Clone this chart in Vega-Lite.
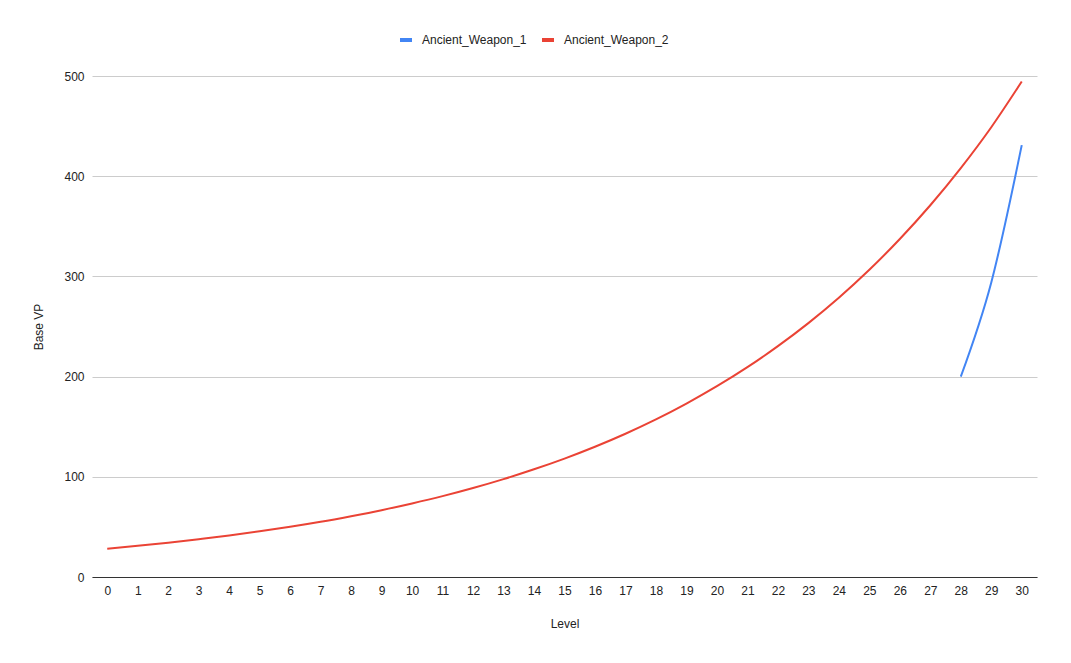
{
  "$schema": "https://vega.github.io/schema/vega-lite/v6.json",
  "width": 945,
  "height": 501,
  "autosize": {"type": "none"},
  "padding": {"left": 92, "top": 76, "right": 34, "bottom": 86},
  "background": "#ffffff",
  "config": {
    "font": "Liberation Sans",
    "view": {"stroke": null},
    "axis": {"labelFont": "Liberation Sans", "titleFont": "Liberation Sans", "labelColor": "#222222", "titleColor": "#222222", "labelFontSize": 12, "titleFontSize": 12, "titleFontWeight": "normal"},
    "legend": {"labelFont": "Liberation Sans", "labelFontSize": 12, "labelColor": "#222222"}
  },
  "data": {
    "values": [
      {"Level": 28, "VP": 200, "series": "Ancient_Weapon_1"},
      {"Level": 29, "VP": 294, "series": "Ancient_Weapon_1"},
      {"Level": 30, "VP": 431, "series": "Ancient_Weapon_1"},
      {"Level": 0, "VP": 28.3, "series": "Ancient_Weapon_2"},
      {"Level": 1, "VP": 31.1, "series": "Ancient_Weapon_2"},
      {"Level": 2, "VP": 34.2, "series": "Ancient_Weapon_2"},
      {"Level": 3, "VP": 37.7, "series": "Ancient_Weapon_2"},
      {"Level": 4, "VP": 41.4, "series": "Ancient_Weapon_2"},
      {"Level": 5, "VP": 45.6, "series": "Ancient_Weapon_2"},
      {"Level": 6, "VP": 50.1, "series": "Ancient_Weapon_2"},
      {"Level": 7, "VP": 55.1, "series": "Ancient_Weapon_2"},
      {"Level": 8, "VP": 60.7, "series": "Ancient_Weapon_2"},
      {"Level": 9, "VP": 66.7, "series": "Ancient_Weapon_2"},
      {"Level": 10, "VP": 73.4, "series": "Ancient_Weapon_2"},
      {"Level": 11, "VP": 80.7, "series": "Ancient_Weapon_2"},
      {"Level": 12, "VP": 88.8, "series": "Ancient_Weapon_2"},
      {"Level": 13, "VP": 97.7, "series": "Ancient_Weapon_2"},
      {"Level": 14, "VP": 107.5, "series": "Ancient_Weapon_2"},
      {"Level": 15, "VP": 118.2, "series": "Ancient_Weapon_2"},
      {"Level": 16, "VP": 130.0, "series": "Ancient_Weapon_2"},
      {"Level": 17, "VP": 143.0, "series": "Ancient_Weapon_2"},
      {"Level": 18, "VP": 157.3, "series": "Ancient_Weapon_2"},
      {"Level": 19, "VP": 173.1, "series": "Ancient_Weapon_2"},
      {"Level": 20, "VP": 190.4, "series": "Ancient_Weapon_2"},
      {"Level": 21, "VP": 209.4, "series": "Ancient_Weapon_2"},
      {"Level": 22, "VP": 230.4, "series": "Ancient_Weapon_2"},
      {"Level": 23, "VP": 253.4, "series": "Ancient_Weapon_2"},
      {"Level": 24, "VP": 278.7, "series": "Ancient_Weapon_2"},
      {"Level": 25, "VP": 306.6, "series": "Ancient_Weapon_2"},
      {"Level": 26, "VP": 337.3, "series": "Ancient_Weapon_2"},
      {"Level": 27, "VP": 371.0, "series": "Ancient_Weapon_2"},
      {"Level": 28, "VP": 408.1, "series": "Ancient_Weapon_2"},
      {"Level": 29, "VP": 448.9, "series": "Ancient_Weapon_2"},
      {"Level": 30, "VP": 494.5, "series": "Ancient_Weapon_2"}
    ]
  },
  "mark": {"type": "line", "strokeWidth": 2, "interpolate": "monotone"},
  "encoding": {
    "x": {
      "field": "Level",
      "type": "ordinal",
      "scale": {"type": "point", "padding": 0.5},
      "axis": {"title": "Level", "labelAngle": 0, "ticks": false, "labelPadding": 8, "titlePadding": 22, "domainColor": "#333333", "domainWidth": 1, "grid": false}
    },
    "y": {
      "field": "VP",
      "type": "quantitative",
      "scale": {"domain": [0, 500], "nice": false},
      "axis": {"title": "Base VP", "values": [0, 100, 200, 300, 400, 500], "ticks": false, "domain": false, "labelPadding": 8, "titlePadding": 18, "gridColor": "#cccccc", "gridWidth": 1}
    },
    "color": {
      "field": "series",
      "type": "nominal",
      "scale": {"domain": ["Ancient_Weapon_1", "Ancient_Weapon_2"], "range": ["#4285F4", "#EA4335"]},
      "legend": {"title": null, "orient": "none", "direction": "horizontal", "legendX": 306, "legendY": -44, "symbolType": "stroke", "symbolStrokeWidth": 4, "symbolSize": 144, "columnPadding": 7, "labelOffset": 8}
    }
  }
}
